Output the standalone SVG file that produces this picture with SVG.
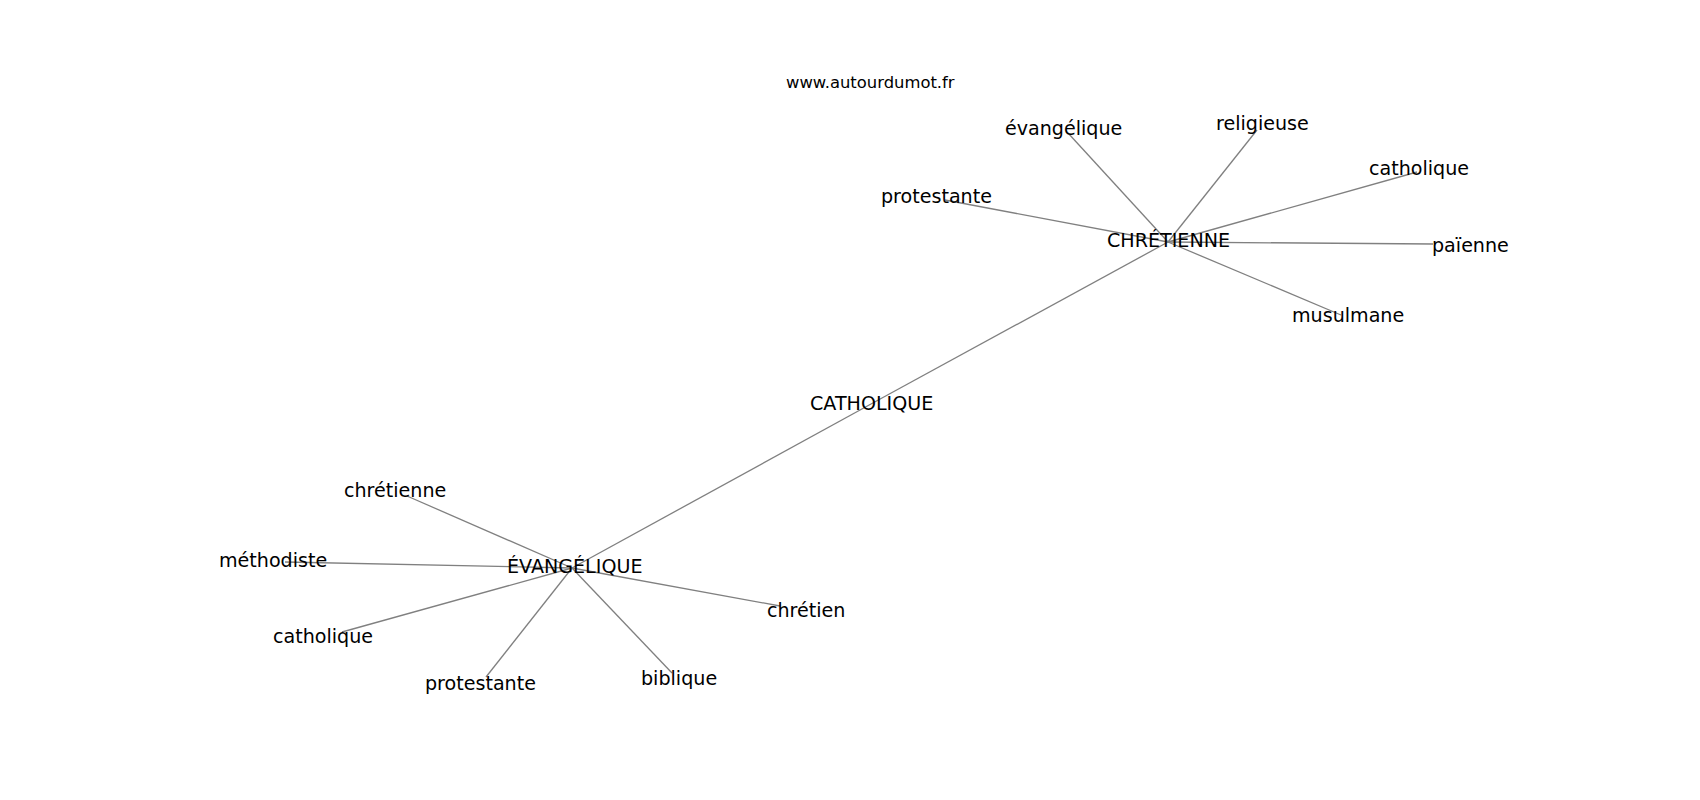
<svg xmlns="http://www.w3.org/2000/svg" width="1700" height="800" viewBox="0 0 1700 800">
<style>
.e{stroke:#808080;stroke-width:1.3;fill:none}
.l{font-family:"DejaVu Sans","Liberation Sans",sans-serif;font-size:19.1px;fill:#000}
.t{font-family:"DejaVu Sans","Liberation Sans",sans-serif;font-size:16.4px;fill:#000}
</style>
<rect width="1700" height="800" fill="#fff"/>
<g id="edges">
<line class="e" x1="1168" y1="242" x2="1068" y2="133"/>
<line class="e" x1="1168" y1="242" x2="1257" y2="130"/>
<line class="e" x1="1168" y1="242" x2="1417" y2="172"/>
<line class="e" x1="1168" y1="242" x2="1433" y2="244"/>
<line class="e" x1="1168" y1="242" x2="1341" y2="315"/>
<line class="e" x1="1168" y1="242" x2="945" y2="200"/>
<line class="e" x1="871" y1="404" x2="1168" y2="242"/>
<line class="e" x1="871" y1="404" x2="572" y2="568"/>
<line class="e" x1="572" y1="568" x2="407" y2="496"/>
<line class="e" x1="572" y1="568" x2="285" y2="562"/>
<line class="e" x1="572" y1="568" x2="342" y2="632"/>
<line class="e" x1="572" y1="568" x2="486" y2="677"/>
<line class="e" x1="572" y1="568" x2="672" y2="673"/>
<line class="e" x1="572" y1="568" x2="780" y2="606"/>
</g>
<g id="title"><text class="t" x="786" y="88">www.autourdumot.fr</text></g>
<g id="n-chretienne-hub"><text class="l" x="1107" y="247">CHRÉTIENNE</text></g>
<g id="n-evangelique-1"><text class="l" x="1005" y="135">évangélique</text></g>
<g id="n-religieuse"><text class="l" x="1216" y="130">religieuse</text></g>
<g id="n-catholique-1"><text class="l" x="1369" y="175">catholique</text></g>
<g id="n-paienne"><text class="l" x="1432" y="252">païenne</text></g>
<g id="n-musulmane"><text class="l" x="1292" y="322">musulmane</text></g>
<g id="n-protestante-1"><text class="l" x="881" y="203">protestante</text></g>
<g id="n-catholique-hub"><text class="l" x="810" y="410">CATHOLIQUE</text></g>
<g id="n-evangelique-hub"><text class="l" x="507" y="573">ÉVANGÉLIQUE</text></g>
<g id="n-chretienne"><text class="l" x="344" y="497">chrétienne</text></g>
<g id="n-methodiste"><text class="l" x="219" y="567">méthodiste</text></g>
<g id="n-catholique-2"><text class="l" x="273" y="643">catholique</text></g>
<g id="n-protestante-2"><text class="l" x="425" y="690">protestante</text></g>
<g id="n-biblique"><text class="l" x="641" y="685">biblique</text></g>
<g id="n-chretien"><text class="l" x="767" y="617">chrétien</text></g>
</svg>
